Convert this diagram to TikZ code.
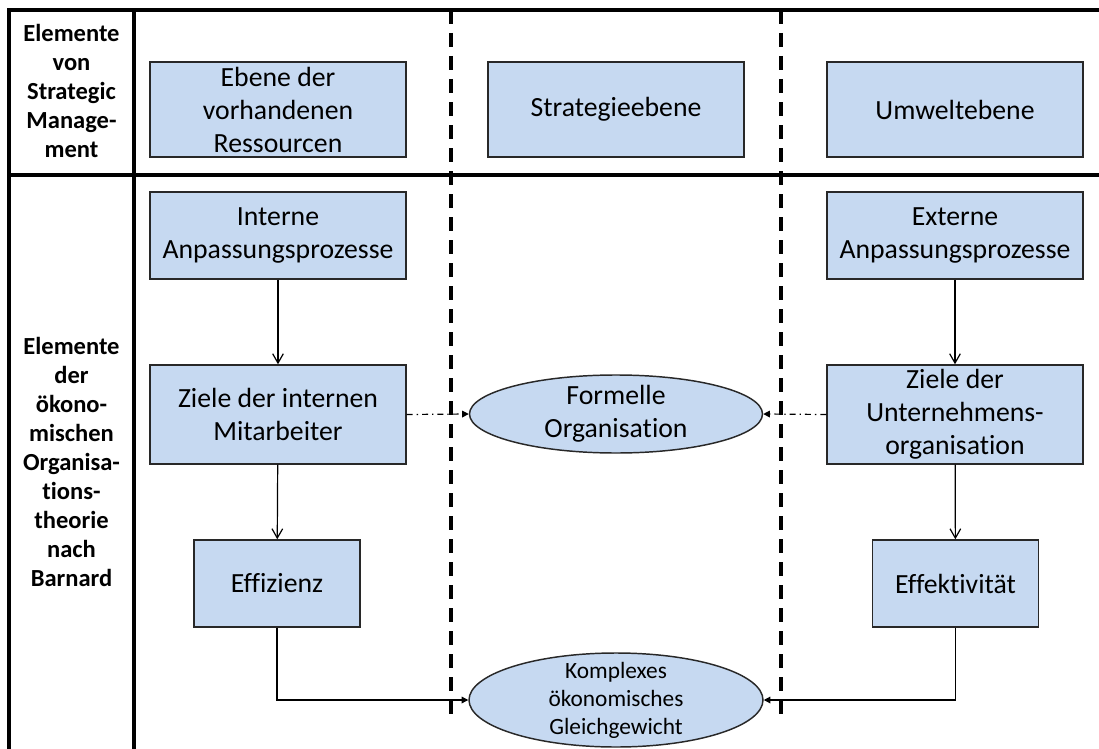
\documentclass[tikz,border=0pt]{standalone}
\usepackage{fontspec}
\setmainfont[Ligatures={NoCommon,NoRare}]{Carlito}
\usetikzlibrary{shapes.geometric,arrows.meta}

\definecolor{boxblue}{RGB}{198,217,241}
\definecolor{boxline}{RGB}{40,40,40}

\tikzset{
  box/.style={draw=boxline, line width=1.1pt, fill=boxblue, inner sep=0pt,
    align=center, font=\fontsize{20.8}{24.75}\selectfont},
  oval/.style={ellipse, draw=boxline, line width=1.1pt, fill=boxblue, inner sep=0pt},
  ovaltext/.style={align=center, inner sep=0pt},
  headtext/.style={align=center, inner sep=0pt, font=\fontsize{18.4}{21.75}\selectfont\bfseries},
  tablerule/.style={line width=2.3pt, black},
  divider/.style={line width=2.6pt, black, dash pattern=on 10.5pt off 6.75pt},
  flow/.style={line width=0.9pt, -{Straight Barb[length=7pt,width=8pt]}},
  mergeline/.style={line width=0.9pt, -{Triangle[length=5pt,width=5pt]}},
  link/.style={line width=0.9pt, dash pattern=on 4.5pt off 3pt on 1pt off 3pt,
    -{Triangle[length=5pt,width=5pt]}}
}

\begin{document}
\begin{tikzpicture}[x=0.75pt,y=-0.75pt]
    \useasboundingbox (0,0) rectangle (1099,749);

    % Table frame
    \draw[tablerule] (1099,10) -- (9,10) -- (9,749);
    \draw[tablerule] (134,10) -- (134,749);
    \draw[tablerule] (9,175) -- (1099,175);

    % Column dividers
    \draw[divider] (451,10) -- (451,718);
    \draw[divider] (781,10) -- (781,718);

    % Row headings
    \node[headtext] (headsm) at (71.5,91) {Elemente\\von\\Strategic\\Manage-\\ment};
    \node[headtext] (headorg) at (71.5,462) {Elemente\\der\\ökono-\\mischen\\Organisa-\\tions-\\theorie\\nach\\Barnard};

    % Levels of strategic management
    \node[box, minimum width=192pt, minimum height=71.25pt] (ressourcen) at (278,109.5) {Ebene der\\vorhandenen\\Ressourcen};
    \node[box, minimum width=192pt, minimum height=71.25pt] (strategie) at (616,109.5) {Strategieebene};
    \node[box, minimum width=192pt, minimum height=71.25pt] (umwelt) at (955,109.5) {Umweltebene};

    % Elements after Barnard
    \node[box, minimum width=192pt, minimum height=65.25pt] (intern) at (278,235.5) {Interne\\Anpassungsprozesse};
    \node[box, minimum width=192pt, minimum height=65.25pt] (extern) at (955,235.5) {Externe\\Anpassungsprozesse};
    \node[box, minimum width=192pt, minimum height=74.25pt] (zieleint) at (278,414.5) {Ziele der internen\\Mitarbeiter};
    \node[box, minimum width=192pt, minimum height=74.25pt] (zieleunt) at (955,414.5) {Ziele der\\Unternehmens-\\organisation};
    \node[box, minimum width=124.5pt, minimum height=65.25pt] (effizienz) at (277,583.5) {Effizienz};
    \node[box, minimum width=124.5pt, minimum height=65.25pt] (effektiv) at (955.5,583.5) {Effektivität};

    % Ellipses
    \node[oval, minimum width=219.75pt, minimum height=58.5pt] (formell) at (616,414) {};
    \node[ovaltext, font=\fontsize{20.8}{24.75}\selectfont] (formelltext) at (formell) {Formelle\\Organisation};
    \node[oval, minimum width=220.5pt, minimum height=70.5pt] (gleich) at (616,700) {};
    \node[ovaltext, font=\fontsize{17.5}{21}\selectfont] (gleichtext) at (gleich) {Komplexes\\ökonomisches\\Gleichgewicht};

    % Connectors
    \draw[flow] (intern) -- (zieleint);
    \draw[flow] (zieleint) -- (effizienz);
    \draw[flow] (extern) -- (zieleunt);
    \draw[flow] (zieleunt) -- (effektiv);
    \draw[mergeline] (effizienz.south) |- (gleich.west);
    \draw[mergeline] (effektiv.south) |- (gleich.east);
    \draw[link] (zieleint.east) -- (formell.west);
    \draw[link] (zieleunt.west) -- (formell.east);
\end{tikzpicture}
\end{document}
